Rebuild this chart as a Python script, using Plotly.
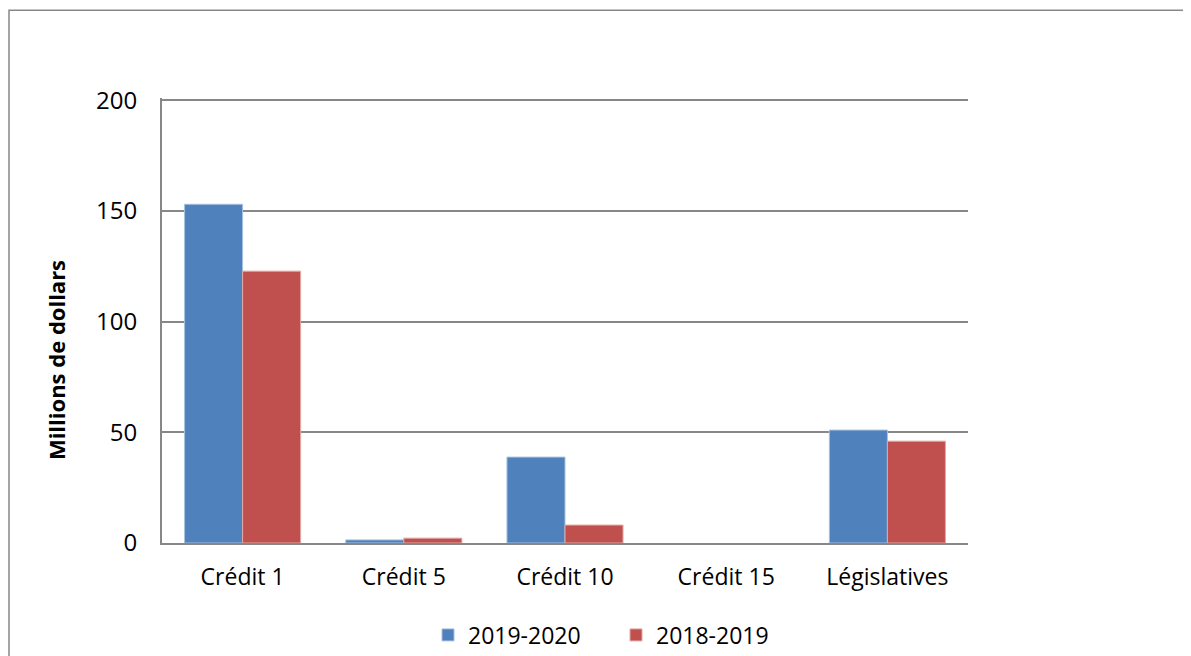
import plotly.graph_objects as go

categories = ["Crédit 1", "Crédit 5", "Crédit 10", "Crédit 15", "Législatives"]
series_names = ["2019-2020", "2018-2019"]
values_2019_2020 = [153, 1.4, 38.8, 0, 51]
values_2018_2019 = [122.8, 2.2, 8.1, 0, 46]
y_ticks = [0, 50, 100, 150, 200]

colors = ["#4F81BD", "#C0504D"]
line_colors = ["#A7C0DE", "#E0A8A6"]

FONT = "Open Sans"

fig = go.Figure()
for name, vals, c, lc in zip(series_names, [values_2019_2020, values_2018_2019], colors, line_colors):
    fig.add_trace(go.Bar(
        x=categories, y=vals, name=name,
        marker=dict(color=c, line=dict(color=lc, width=[1 if v > 0 else 0 for v in vals])),
    ))

OFF = 8  # default page body margin
W, H = 1191, 656
x_left, x_right, y_top, y_zero = 162, 968, 100, 543
ymax = 201
px_per_unit = (y_zero - y_top) / 200.0
top_px = y_zero - ymax * px_per_unit
L, R = x_left - OFF, W - (x_right - OFF)
T, B = top_px - OFF, H - (y_zero - OFF)
pw, ph = W - L - R, H - T - B

def px_to_paper_x(px):
    return (px - OFF - L) / pw

def px_to_paper_y(py):
    return ((y_zero) - py) / ph

fig.update_layout(
    width=W, height=H,
    margin=dict(l=L, r=R, t=T, b=B, autoexpand=False),
    paper_bgcolor="white", plot_bgcolor="white",
    barmode="group", bargap=0.28, bargroupgap=0,
    font=dict(family=FONT, size=23, color="black"),
    showlegend=True,
    legend=dict(orientation="h", x=px_to_paper_x(428), xanchor="left",
                y=px_to_paper_y(635), yanchor="middle",
                entrywidth=143, entrywidthmode="pixels",
                font=dict(family=FONT, size=23), traceorder="normal"),
    xaxis=dict(showline=True, linecolor="#878787", linewidth=2, ticks="",
               tickfont=dict(family=FONT, size=23), ticklabelstandoff=12),
    yaxis=dict(range=[0, ymax], tickvals=y_ticks, showgrid=True, gridcolor="#878787", gridwidth=1.5,
               showline=True, linecolor="#878787", linewidth=2, ticks="", zeroline=False,
               tickfont=dict(family=FONT, size=24), ticklabelstandoff=18),
)

fig.add_annotation(text="<b>Millions de dollars</b>", xref="paper", yref="paper",
                   x=px_to_paper_x(56), y=px_to_paper_y(360), xanchor="center", yanchor="middle",
                   textangle=-90, showarrow=False,
                   font=dict(family=FONT, size=22, color="black"))

fig.add_shape(type="rect", xref="paper", yref="paper",
              x0=px_to_paper_x(9), x1=1.4, y0=-0.4, y1=px_to_paper_y(10),
              line=dict(color="#878787", width=1.5), fillcolor="rgba(0,0,0,0)", layer="below")

fig.write_html("out.html")
